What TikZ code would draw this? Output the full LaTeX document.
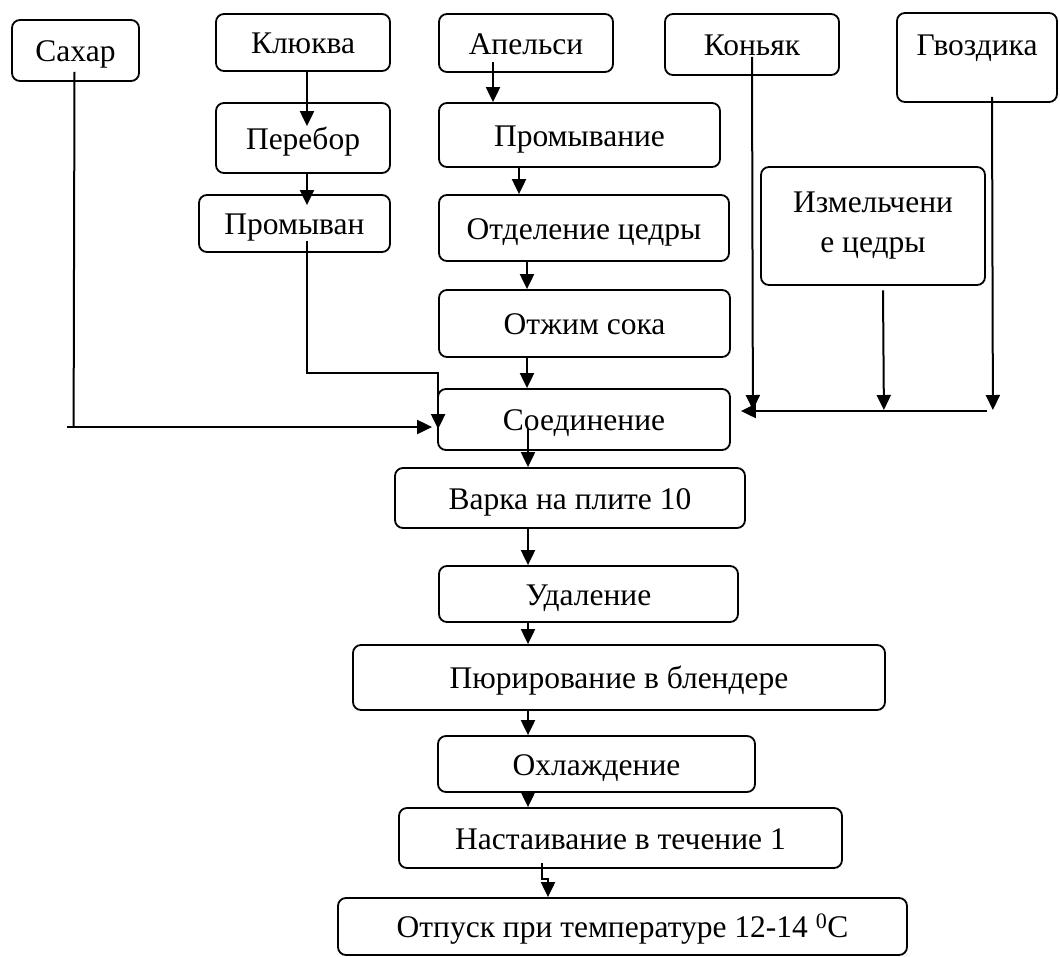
\documentclass[tikz,border=0pt]{standalone}
\usepackage{fontspec}
\setmainfont{Liberation Serif}
\usetikzlibrary{arrows.meta}
\begin{document}
\begin{tikzpicture}[x=1pt,y=1pt,
  box/.style={draw, rounded corners=8pt, line width=1.8pt, inner sep=0pt, align=center,
    text height=22pt, text depth=0pt, font=\fontsize{31.5}{40}\selectfont},
  arr/.style={line width=2pt, -{Triangle[length=15pt,width=14pt]}},
  ln/.style={line width=2pt}]
\useasboundingbox (0,0) rectangle (1060,-956);
\fill[white] (0,0) rectangle (1060,-956);
% top row
\node[box, minimum width=127pt, minimum height=61pt] (sahar) at (75.5,-50.5) {Сахар};
\node[box, minimum width=174pt, minimum height=57pt] (klukva) at (303,-42.5) {Клюква};
\node[box, minimum width=174pt, minimum height=70pt] (perebor) at (303,-138) {Перебор};
\node[box, minimum width=191pt, minimum height=57pt] (promyvan) at (294.5,-223.5) {Промыван};
\node[box, minimum width=174pt, minimum height=58pt] (apelsi) at (526,-43) {Апельси};
\node[box, minimum width=281pt, minimum height=64pt] (promyvanie) at (579.5,-135) {Промывание};
\node[box, minimum width=290pt, minimum height=66pt] (otdel) at (584,-228) {Отделение цедры};
\node[box, minimum width=291pt, minimum height=67pt] (otzhim) at (584.5,-323.5) {Отжим сока};
\node[box, minimum width=292pt, minimum height=61pt] (soed) at (584,-419.5) {Соединение};
\node[box, minimum width=174pt, minimum height=61pt] (konyak) at (752,-44.5) {Коньяк};
\node[box, minimum width=160pt, minimum height=89pt, text height=22pt, text depth=27pt] (gvozd) at (977,-57.5) {Гвоздика};
\node[box, minimum width=224pt, minimum height=118pt, text height=, text depth=] (izmel) at (873,-226) {Измельчени\\е цедры};
% lower chain
\node[box, minimum width=350pt, minimum height=60pt] (varka) at (570,-498) {Варка на плите 10};
\node[box, minimum width=299pt, minimum height=56pt] (udal) at (588.5,-594) {Удаление};
\node[box, minimum width=532pt, minimum height=65pt] (pyur) at (619,-677.5) {Пюрирование в блендере};
\node[box, minimum width=317pt, minimum height=56pt] (ohl) at (596.5,-764) {Охлаждение};
\node[box, minimum width=443pt, minimum height=60pt] (nast) at (620.5,-838) {Настаивание в течение 1};
\node[box, minimum width=569pt, minimum height=57pt] (otpusk) at (622.5,-926.5) {Отпуск при температуре 12-14 \textsuperscript{0}C};
% connectors, left and centre
\draw[arr] ([xshift=4pt]klukva.south) -- ([xshift=4pt,yshift=-24pt]perebor.north);
\draw[arr] ([xshift=4pt]perebor.south) -- ([xshift=12.5pt,yshift=-11pt]promyvan.north);
\draw[arr] ([xshift=12.5pt,yshift=12pt]promyvan.south) |- ([xshift=1pt,yshift=15pt]soed.north west) -- ([xshift=1pt,yshift=-41pt]soed.north west);
\draw[ln] ([xshift=-1pt,yshift=10pt]sahar.south) -- ([xshift=-363.5pt,yshift=-7.5pt]soed.west);
\draw[arr] ([xshift=-370pt,yshift=-7.5pt]soed.west) -- ([xshift=-5pt,yshift=-7.5pt]soed.west);
\draw[arr] ([xshift=-33pt,yshift=11pt]apelsi.south) -- ([xshift=-86.5pt]promyvanie.north);
\draw[arr] ([xshift=-60.5pt]promyvanie.south) -- ([xshift=-65pt]otdel.north);
\draw[arr] ([xshift=-57pt]otdel.south) -- ([xshift=-57.5pt]otzhim.north);
\draw[arr] ([xshift=-57.5pt]otzhim.south) -- ([xshift=-57pt]soed.north);
\draw[arr] ([xshift=-56pt,yshift=23pt]soed.south) -- ([xshift=-42pt]varka.north);
\draw[arr] ([xshift=-42pt]varka.south) -- ([xshift=-60.5pt]udal.north);
\draw[arr] ([xshift=-60.5pt]udal.south) -- ([xshift=-91pt]pyur.north);
\draw[arr] ([xshift=-91pt]pyur.south) -- ([xshift=-68.5pt]ohl.north);
\draw[arr] ([xshift=-68.5pt]ohl.south) -- ([xshift=-92.5pt]nast.north);
\draw[arr] ([xshift=-78.5pt,yshift=6pt]nast.south) |- ([xshift=-74.5pt,yshift=18pt]otpusk.north) -- ([xshift=-74.5pt]otpusk.north);
% right side
\draw[arr] ([yshift=19pt]konyak.south) -- ([xshift=22pt,yshift=9.5pt]soed.east);
\draw[arr] ([xshift=10pt,yshift=-4.5pt]izmel.south) -- ([xshift=153pt,yshift=9.5pt]soed.east);
\draw[arr] ([xshift=15pt,yshift=6pt]gvozd.south) -- ([xshift=262pt,yshift=9.5pt]soed.east);
\draw[arr] ([xshift=256pt,yshift=8.5pt]soed.east) -- ([xshift=10pt,yshift=8.5pt]soed.east);
\end{tikzpicture}
\end{document}
